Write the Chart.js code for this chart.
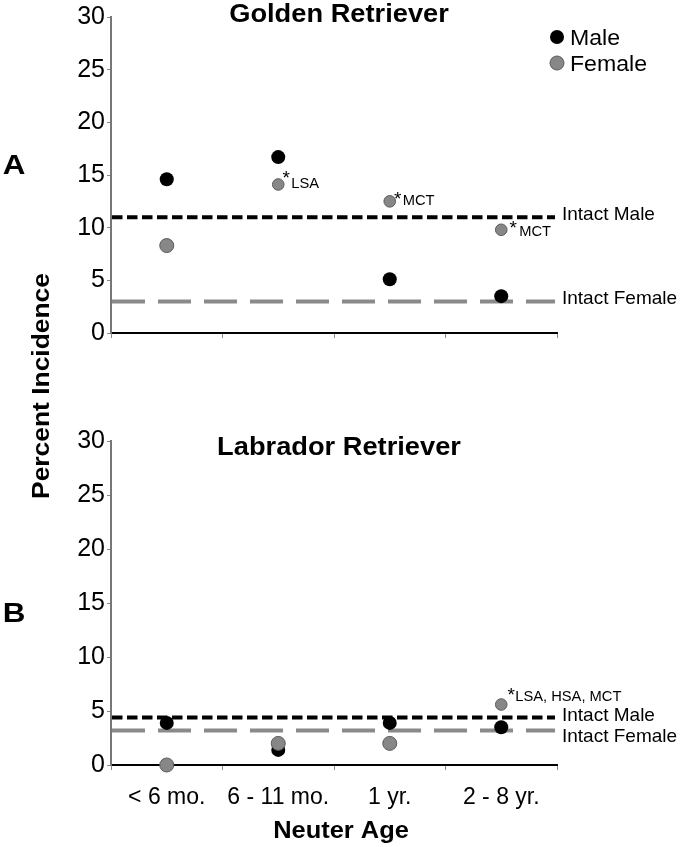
<!DOCTYPE html>
<html>
<head>
<meta charset="utf-8">
<script src="https://cdn.jsdelivr.net/npm/chart.js@4/dist/chart.umd.min.js"></script>
<style>
  body { margin: 0; background: #fff; }
  #wrap { position: relative; width: 680px; height: 847px; }
  #wrap canvas { position: absolute; left: 0; top: 0; }
</style>
</head>
<body>
<div id="wrap">
  <canvas id="goldenChart" width="680" height="847"></canvas>
  <canvas id="labChart" width="680" height="847"></canvas>
</div>
<script>
const neuterAges = ['< 6 mo.', '6 - 11 mo.', '1 yr.', '2 - 8 yr.'];
const yTicks = [0, 5, 10, 15, 20, 25, 30];

// Golden Retriever, percent incidence
const goldenMale = [14.6, 16.7, 5.1, 3.5];
const goldenFemale = [8.3, 14.1, 12.5, 9.8];
const goldenIntactMale = 11.0;
const goldenIntactFemale = 3.0;
const goldenNotes = ['', 'LSA', 'MCT', 'MCT'];

// Labrador Retriever, percent incidence
const labMale = [3.9, 1.4, 3.9, 3.5];
const labFemale = [0, 2.0, 2.0, 5.6];
const labIntactMale = 4.4;
const labIntactFemale = 3.2;
const labNotes = ['', '', '', 'LSA, HSA, MCT'];

const FONT = '"Liberation Sans", Arial, sans-serif';
const MALE_COLOR = '#000000';
const FEMALE_COLOR = '#878787';
const FEMALE_EDGE = '#5a5a5a';

function drawText(ctx, text, x, y, size, opts) {
  opts = opts || {};
  ctx.save();
  ctx.translate(x, y);
  if (opts.rotate) ctx.rotate(opts.rotate);
  ctx.scale(opts.sx || 1, 1);
  ctx.font = (opts.bold ? 'bold ' : '') + size + 'px ' + FONT;
  ctx.fillStyle = opts.color || '#000';
  ctx.textAlign = opts.align || 'left';
  ctx.textBaseline = opts.baseline || 'middle';
  ctx.fillText(text, 0, 0);
  ctx.restore();
}

function dashedLine(ctx, area, y, color, dash) {
  ctx.save();
  ctx.strokeStyle = color;
  ctx.lineWidth = 4;
  ctx.setLineDash(dash);
  ctx.beginPath();
  ctx.moveTo(area.left + 1, y);
  ctx.lineTo(area.right - 2, y);
  ctx.stroke();
  ctx.restore();
}

// intact reference lines, drawn under the points
const intactLines = {
  id: 'intactLines',
  beforeDatasetsDraw(chart, args, opts) {
    const ctx = chart.ctx;
    const y = chart.scales.y;
    dashedLine(ctx, chart.chartArea, y.getPixelForValue(opts.female), '#8a8a8a', [33, 13]);
    dashedLine(ctx, chart.chartArea, y.getPixelForValue(opts.male), '#000', [10.5, 4.5]);
  }
};

// titles, labels, notes
const panelText = {
  id: 'panelText',
  afterDraw(chart, args, opts) {
    const ctx = chart.ctx;
    const area = chart.chartArea;
    const x = chart.scales.x;
    const y = chart.scales.y;

    drawText(ctx, opts.title, 339, opts.titleY, 25, { bold: true, align: 'center', sx: 1.09 });
    drawText(ctx, opts.letter, 14, opts.letterY, 28, { bold: true, align: 'center', sx: 1.12 });

    drawText(ctx, 'Intact Male', area.right + 5, y.getPixelForValue(opts.intactMale) + opts.maleDy, 19);
    drawText(ctx, 'Intact Female', area.right + 5, y.getPixelForValue(opts.intactFemale) + opts.femaleDy, 19);

    opts.notes.forEach((note, i) => {
      if (!note) return;
      const off = opts.noteOffsets[i];
      const px = x.getPixelForValue(i);
      const py = y.getPixelForValue(opts.female[i]);
      drawText(ctx, '*', px + off.ax, py + off.ay + 10, 19, { baseline: 'alphabetic', align: 'center' });
      drawText(ctx, note, px + off.tx, py + off.ty, 14, { sx: 1.05 });
    });

    if (opts.showLegend) {
      const items = [['Male', MALE_COLOR, null, 38], ['Female', FEMALE_COLOR, FEMALE_EDGE, 64]];
      items.forEach(([label, fill, edge, cy]) => {
        ctx.save();
        ctx.beginPath();
        ctx.arc(557, cy - 1, 7, 0, Math.PI * 2);
        ctx.fillStyle = fill;
        ctx.fill();
        if (edge) { ctx.strokeStyle = edge; ctx.lineWidth = 1; ctx.stroke(); }
        ctx.restore();
        drawText(ctx, label, 570, cy + 1, 22, { sx: 1.05 });
      });
    }

    if (opts.axisTitles) {
      drawText(ctx, 'Percent Incidence', 42, 386, 24, { bold: true, align: 'center', sx: 1.1, rotate: -Math.PI / 2 });
    }
    if (opts.xTitle) {
      drawText(ctx, 'Neuter Age', 341, 831, 24, { bold: true, align: 'center', sx: 1.06 });
    }
  }
};

function makeChart(id, male, female, cfg) {
  const maleRadius = male.map(() => 7);
  const femaleRadius = cfg.notes.map(n => (n ? 5.8 : 7));
  return new Chart(document.getElementById(id), {
    type: 'line',
    data: {
      labels: neuterAges,
      datasets: [
        {
          label: 'Female',
          data: female,
          showLine: false,
          clip: false,
          pointRadius: femaleRadius,
          pointBackgroundColor: FEMALE_COLOR,
          pointBorderColor: FEMALE_EDGE,
          pointBorderWidth: 1,
          order: 0
        },
        {
          label: 'Male',
          data: male,
          showLine: false,
          clip: false,
          pointRadius: maleRadius,
          pointBackgroundColor: MALE_COLOR,
          pointBorderColor: MALE_COLOR,
          pointBorderWidth: 0,
          order: 1
        }
      ]
    },
    options: {
      responsive: false,
      animation: false,
      events: [],
      layout: { padding: cfg.padding },
      plugins: {
        legend: { display: false },
        tooltip: { enabled: false },
        intactLines: { male: cfg.intactMale, female: cfg.intactFemale },
        panelText: Object.assign({ female: female }, cfg)
      },
      scales: {
        x: {
          offset: true,
          grid: { offset: true, drawOnChartArea: false, tickLength: 5, color: '#8a8a8a', lineWidth: 1 },
          border: { color: '#000', width: 2 },
          ticks: {
            display: cfg.showXLabels,
            font: { family: FONT, size: 23 },
            color: '#000',
            padding: 14,
            maxRotation: 0,
            autoSkip: false
          },
          afterFit(scale) { scale.height = cfg.xHeight; }
        },
        y: {
          min: 0,
          max: 30,
          afterBuildTicks(scale) { scale.ticks = yTicks.map(v => ({ value: v })); },
          grid: { drawOnChartArea: false, tickLength: 4, color: '#8a8a8a', lineWidth: 1 },
          border: { color: '#777', width: 2 },
          ticks: { font: { family: FONT, size: 25 }, color: '#000', padding: 2 },
          afterFit(scale) { scale.width = 111; }
        }
      }
    },
    plugins: [intactLines, panelText]
  });
}

makeChart('goldenChart', goldenMale, goldenFemale, {
  padding: { left: 0, right: 123, top: 11, bottom: 847 - 333 - 20 },
  xHeight: 20,
  showXLabels: false,
  title: 'Golden Retriever',
  titleY: 15,
  letter: 'A',
  letterY: 166,
  intactMale: goldenIntactMale,
  intactFemale: goldenIntactFemale,
  maleDy: -2,
  femaleDy: -3,
  notes: goldenNotes,
  noteOffsets: [null, { ax: 8, ay: -10, tx: 13, ty: 0 }, { ax: 8, ay: -6, tx: 13, ty: 0 }, { ax: 12, ay: -6, tx: 18, ty: 2 }],
  showLegend: true,
  axisTitles: true,
  xTitle: false
});

makeChart('labChart', labMale, labFemale, {
  padding: { left: 0, right: 123, top: 441, bottom: 0 },
  xHeight: 847 - 765,
  showXLabels: true,
  title: 'Labrador Retriever',
  titleY: 448,
  letter: 'B',
  letterY: 614,
  intactMale: labIntactMale,
  intactFemale: labIntactFemale,
  maleDy: -2,
  femaleDy: 6,
  notes: labNotes,
  noteOffsets: [null, null, null, { ax: 10, ay: -14, tx: 14, ty: -7 }],
  showLegend: false,
  axisTitles: false,
  xTitle: true
});
</script>
</body>
</html>
